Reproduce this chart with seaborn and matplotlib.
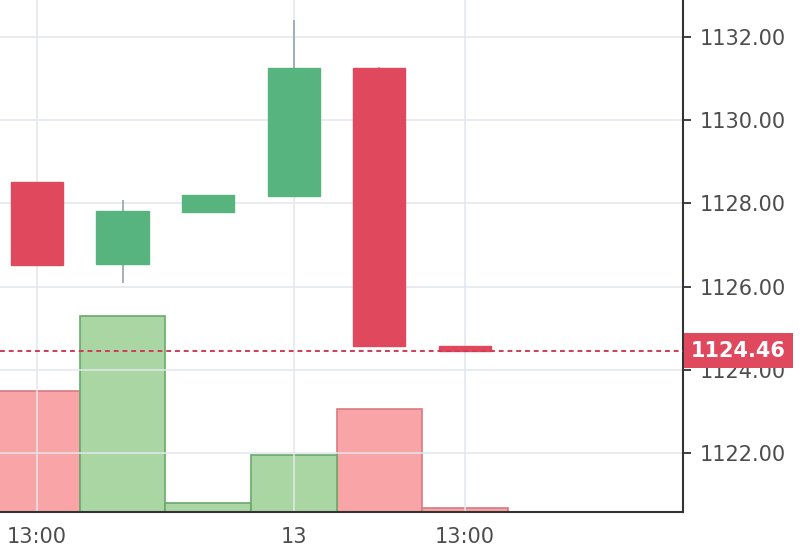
import numpy as np
import pandas as pd
import matplotlib
matplotlib.use("Agg")
import matplotlib.pyplot as plt
import matplotlib.transforms as mtransforms
import seaborn as sns

# candle data
opens = [1128.52, 1126.55, 1127.80, 1128.18, 1131.25, 1124.58]
closes = [1126.52, 1127.82, 1128.20, 1131.25, 1124.57, 1124.46]
highs = [1128.52, 1128.08, 1128.20, 1132.42, 1131.28, 1124.58]
lows = [1126.52, 1126.08, 1127.80, 1128.18, 1124.57, 1124.46]
volumes = [1200, 1940, 90, 560, 1020, 40]
last_price = 1124.46

tick_pos = [0, 3, 5]
tick_labels = ["13:00", "13", "13:00"]
price_ticks = [1122, 1124, 1126, 1128, 1130, 1132]

RED = "#e0485d"
GREEN = "#58b47f"
VOL_RED = "#f9a4a7"
VOL_GREEN = "#a9d6a3"
GRID = "#e2e7ed"
TXT = "#4d4d4d"

sns.set_style("white")
plt.rcParams["font.family"] = ["DejaVu Sans"]

idx = np.arange(len(opens))
df = pd.DataFrame({"idx": idx, "open": opens, "close": closes,
                   "high": highs, "low": lows, "volume": volumes})
df["dir"] = np.where(df["close"] < df["open"], "down", "up")

fig = plt.figure(figsize=(8, 5.55), dpi=100)
rect = [0.0, 43 / 555, 683 / 800, 512 / 555]
ax_vol = fig.add_axes(rect)
ax = fig.add_axes(rect, sharex=ax_vol)
ax.patch.set_alpha(0)

# volume bars
sns.barplot(data=df, x="idx", y="volume", hue="dir",
            palette={"up": VOL_GREEN, "down": VOL_RED},
            native_scale=True, width=1, dodge=False, saturation=1,
            errorbar=None, legend=False, ax=ax_vol, linewidth=1.2)
for p in ax_vol.patches:
    fc = matplotlib.colors.to_hex(p.get_facecolor())
    p.set_edgecolor("#d87a80" if fc == VOL_RED else "#6aa86c")
ax_vol.set_ylim(0, 5070)
ax_vol.axis("off")

# candles
cols = [RED if d == "down" else GREEN for d in df["dir"]]
ax.vlines(df["idx"], df["low"], df["high"], color="#94a2ae", lw=1.2, zorder=2)
ax.bar(df["idx"], df["close"] - df["open"], bottom=df["open"], width=0.61,
       color=cols, edgecolor=cols, linewidth=1, zorder=3)

# last price line and label
ax.axhline(last_price, color="#d23b55", lw=1.4, ls=(0, (2.5, 2)), zorder=4)
trans = mtransforms.blended_transform_factory(ax.transAxes, ax.transData)
trans = mtransforms.offset_copy(trans, fig=fig, x=8, y=0, units="dots")
ax.text(1.0, last_price, f"{last_price:.2f}", transform=trans, ha="left",
        va="center", color="white", fontsize=15, fontweight="bold",
        clip_on=False, zorder=10,
        bbox=dict(boxstyle="square,pad=0.36", fc=RED, ec="none"))

ax.set_xlim(-0.432, 7.547)
ax.set_ylim(1120.58, 1132.89)
ax.set_xticks(tick_pos)
ax.set_xticklabels(tick_labels)
ax.set_yticks(price_ticks)
ax.set_yticklabels([f"{v:.2f}" for v in price_ticks])
ax.yaxis.tick_right()
ax.grid(True, color=GRID, lw=1.1)
ax.set_axisbelow(True)
ax.tick_params(axis="both", colors="#333333", labelcolor=TXT, labelsize=15,
               length=6, width=1.3, direction="out")
ax.tick_params(axis="y", pad=6)
ax.tick_params(axis="x", pad=5)
for s in ["left", "top"]:
    ax.spines[s].set_visible(False)
for s in ["right", "bottom"]:
    ax.spines[s].set_visible(True)
    ax.spines[s].set_color("#333333")
    ax.spines[s].set_linewidth(1.5)
ax.set_xlabel("")
ax.set_ylabel("")

fig.savefig("out.png", dpi=100)
